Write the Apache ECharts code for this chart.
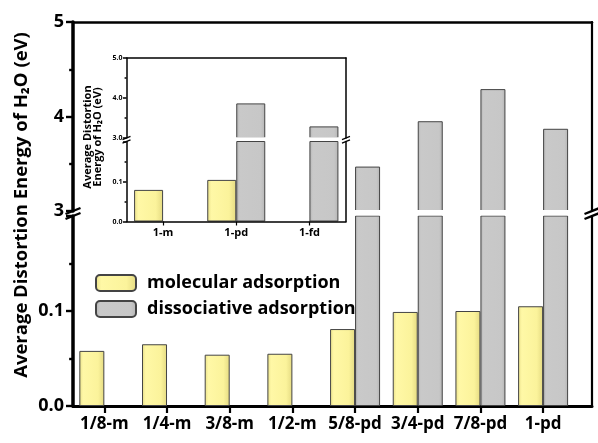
<!DOCTYPE html>
<html>
<head>
<meta charset="utf-8">
<script src="https://cdn.jsdelivr.net/npm/echarts@6/dist/echarts.min.js"></script>
<style>
html, body { margin: 0; padding: 0; background: #fff; }
#chart { width: 598px; height: 443px; }
</style>
</head>
<body>
<div id="chart"></div>
<script>
// main chart data
const categories = ['1/8-m', '1/4-m', '3/8-m', '1/2-m', '5/8-pd', '3/4-pd', '7/8-pd', '1-pd'];
const molecular = [0.058, 0.065, 0.054, 0.055, 0.081, 0.099, 0.100, 0.105];
const dissociative = [null, null, null, null, 3.47, 3.95, 4.29, 3.87];
// inset data
const insetCategories = ['1-m', '1-pd', '1-fd'];
const insetMolecular = [0.079, 0.104, null];
const insetDissociative = [null, 3.865, 3.29];
const seriesNames = ['molecular adsorption', 'dissociative adsorption'];
const yTitle = 'Average Distortion Energy of H\u2082O (eV)';
const insetYTitle = 'Average Distortion\nEnergy of H\u2082O (eV)';

const FONT = 'Open Sans';
const W = 598;
// main layout
const L = 73, R = 6, TOP = 22, UP_H = 189, LOW_TOP = 216, LOW_H = 190;
// inset layout
const IL = 126.5, IR = 252, ITOP = 58, IUP_H = 80, ILOW_TOP = 141.5, ILOW_H = 80;

const chart = echarts.init(document.getElementById('chart'));

const yellowFill = new echarts.graphic.LinearGradient(0, 0, 1, 0, [
  { offset: 0, color: '#E9E08A' },
  { offset: 0.15, color: '#FFF8A6' },
  { offset: 0.75, color: '#FBF39B' },
  { offset: 1, color: '#E4DA82' }
]);
const grayFill = new echarts.graphic.LinearGradient(0, 0, 1, 0, [
  { offset: 0, color: '#B3B3B3' },
  { offset: 0.12, color: '#C9C9C9' },
  { offset: 0.85, color: '#C7C7C7' },
  { offset: 1, color: '#B5B5B5' }
]);

function pairs(values, keep) {
  return values.map((v, i) => [i + 1, (v == null || !keep(v)) ? '-' : v]);
}
function plain(values, keep) {
  return values.map(v => (v == null || !keep(v)) ? '-' : v);
}
const low = v => v < 1;
const high = v => v >= 1;

function barSeries(name, fill, xi, yi, data, width, z) {
  return {
    name: name, type: 'bar', xAxisIndex: xi, yAxisIndex: yi, data: data,
    barWidth: width, barGap: '0%', z: z,
    itemStyle: { color: fill, borderColor: '#444', borderWidth: 1 }
  };
}

function lineOnly(opt, width) {
  return Object.assign({
    axisLine: { show: true, onZero: false, lineStyle: { color: '#000', width: width } },
    axisTick: { show: false },
    axisLabel: { show: false },
    splitLine: { show: false }
  }, opt);
}

function yLeft(opt, tickLen, width, fontSize, margin, fmt) {
  return Object.assign({
    type: 'value', position: 'left',
    axisLine: { show: true, onZero: false, lineStyle: { color: '#000', width: width } },
    axisTick: { show: true, length: tickLen, lineStyle: { color: '#000', width: Math.min(width, 2.4) } },
    minorTick: { show: true, splitNumber: 2, length: tickLen * 0.55, lineStyle: { color: '#000', width: Math.min(width, 2.4) } },
    axisLabel: { color: '#000', fontFamily: FONT, fontWeight: 'bold', fontSize: fontSize, margin: margin, formatter: fmt },
    splitLine: { show: false }
  }, opt);
}

// break marks: two parallel slashes around (cx, cy1) and (cx, cy2)
function breakMark(cx, cy1, cy2, hx, hy, lw, z) {
  return [cy1, cy2].map(cy => ({
    type: 'line', z: z,
    shape: { x1: cx - hx, y1: cy + hy, x2: cx + hx, y2: cy - hy },
    style: { stroke: '#000', lineWidth: lw }
  }));
}

const lowFmt = v => (v > 0.15 ? '' : v.toFixed(1));

const option = {
  animation: false,
  backgroundColor: '#fff',
  grid: [
    { left: L, right: R, top: LOW_TOP, height: LOW_H },
    { left: L, right: R, top: TOP, height: UP_H },
    { left: IL, right: IR, top: ILOW_TOP, height: ILOW_H, z: 5 },
    { left: IL, right: IR, top: ITOP, height: IUP_H, z: 5 }
  ],
  xAxis: [
    {
      gridIndex: 0, type: 'value', min: 0.5, max: 8.78, position: 'bottom',
      axisLine: { show: true, onZero: false, lineStyle: { color: '#000', width: 3 } },
      axisTick: { show: true, length: 7, customValues: categories.map((c, i) => i + 1), lineStyle: { color: '#000', width: 2.2 } },
      axisLabel: {
        customValues: categories.map((c, i) => i + 1),
        formatter: v => categories[Math.round(v) - 1],
        color: '#000', fontFamily: FONT, fontWeight: 'bold', fontSize: 17, margin: 10
      },
      splitLine: { show: false }
    },
    lineOnly({ gridIndex: 1, type: 'value', min: 0.5, max: 8.78, position: 'top' }, 2.5),
    {
      gridIndex: 2, type: 'category', data: insetCategories, position: 'bottom', z: 5,
      axisLine: { show: true, onZero: false, lineStyle: { color: '#000', width: 1.5 } },
      axisTick: { show: true, alignWithLabel: true, length: 4, lineStyle: { color: '#000', width: 1.2 } },
      axisLabel: { color: '#000', fontFamily: FONT, fontWeight: 'bold', fontSize: 11, margin: 6 },
      splitLine: { show: false }
    },
    lineOnly({ gridIndex: 3, type: 'category', data: insetCategories, position: 'top', z: 5 }, 1.5)
  ],
  yAxis: [
    yLeft({ gridIndex: 0, min: 0, max: 0.2, interval: 0.1 }, 7, 3.5, 18, 9, lowFmt),
    lineOnly({ gridIndex: 0, type: 'value', min: 0, max: 0.2, position: 'right' }, 2.2),
    yLeft({ gridIndex: 1, min: 3, max: 5, interval: 1 }, 7, 3.5, 18, 9, v => String(Math.round(v))),
    lineOnly({ gridIndex: 1, type: 'value', min: 3, max: 5, position: 'right' }, 2.2),
    yLeft({ gridIndex: 2, min: 0, max: 0.2, interval: 0.1, z: 5 }, 3.5, 1.5, 7, 4, lowFmt),
    lineOnly({ gridIndex: 2, type: 'value', min: 0, max: 0.2, position: 'right', z: 5 }, 1.5),
    yLeft({ gridIndex: 3, min: 3, max: 5, interval: 1, z: 5 }, 3.5, 1.5, 7, 4, v => v.toFixed(1)),
    lineOnly({ gridIndex: 3, type: 'value', min: 3, max: 5, position: 'right', z: 5 }, 1.5)
  ],
  legend: {
    orient: 'vertical', left: 90, top: 269,
    itemWidth: 40, itemHeight: 16, itemGap: 8,
    data: seriesNames,
    textStyle: { color: '#000', fontFamily: FONT, fontWeight: 'bold', fontSize: 18, lineHeight: 16, padding: [0, 0, 0, 6] }
  },
  series: [
    barSeries(seriesNames[0], yellowFill, 0, 0, pairs(molecular, low), 25, 2),
    barSeries(seriesNames[1], grayFill, 0, 0, pairs(dissociative, v => true), 25, 2),
    barSeries(seriesNames[0], yellowFill, 1, 2, pairs(molecular, high), 25, 2),
    barSeries(seriesNames[1], grayFill, 1, 2, pairs(dissociative, high), 25, 2),
    barSeries(seriesNames[0], yellowFill, 2, 4, plain(insetMolecular, low), 29, 4),
    barSeries(seriesNames[1], grayFill, 2, 4, plain(insetDissociative, v => true), 29, 4),
    barSeries(seriesNames[0], yellowFill, 3, 6, plain(insetMolecular, high), 29, 4),
    barSeries(seriesNames[1], grayFill, 3, 6, plain(insetDissociative, high), 29, 4)
  ],
  graphic: {
    elements: [
      // white gaps across the broken bars
      { type: 'rect', z: 3, shape: { x: L + 2, y: TOP + UP_H - 1, width: W - R - L - 3.5, height: LOW_TOP - TOP - UP_H + 0.5 }, style: { fill: '#fff' } },
      { type: 'rect', z: 6, shape: { x: IL + 1, y: ITOP + IUP_H - 0.8, width: W - IR - IL - 2, height: ILOW_TOP - ITOP - IUP_H + 0.3 }, style: { fill: '#fff' } },
      ...breakMark(L, TOP + UP_H, LOW_TOP, 7.5, 3, 2.4, 7),
      ...breakMark(W - R, TOP + UP_H, LOW_TOP, 7.5, 3, 2.4, 7),
      ...breakMark(IL, ITOP + IUP_H, ILOW_TOP, 4, 1.6, 1.2, 7),
      ...breakMark(W - IR, ITOP + IUP_H, ILOW_TOP, 4, 1.6, 1.2, 7),
      {
        type: 'text', x: 22, y: 205, rotation: Math.PI / 2, z: 7,
        style: { text: yTitle, fill: '#000', font: 'bold 18.5px "Open Sans"', textAlign: 'center', textVerticalAlign: 'middle' }
      },
      {
        type: 'text', x: 93, y: 137, rotation: Math.PI / 2, z: 7,
        style: { text: insetYTitle, fill: '#000', font: 'bold 11px "Open Sans"', lineHeight: 10.5, textAlign: 'center', textVerticalAlign: 'middle' }
      }
    ]
  }
};

chart.setOption(option);
</script>
</body>
</html>
